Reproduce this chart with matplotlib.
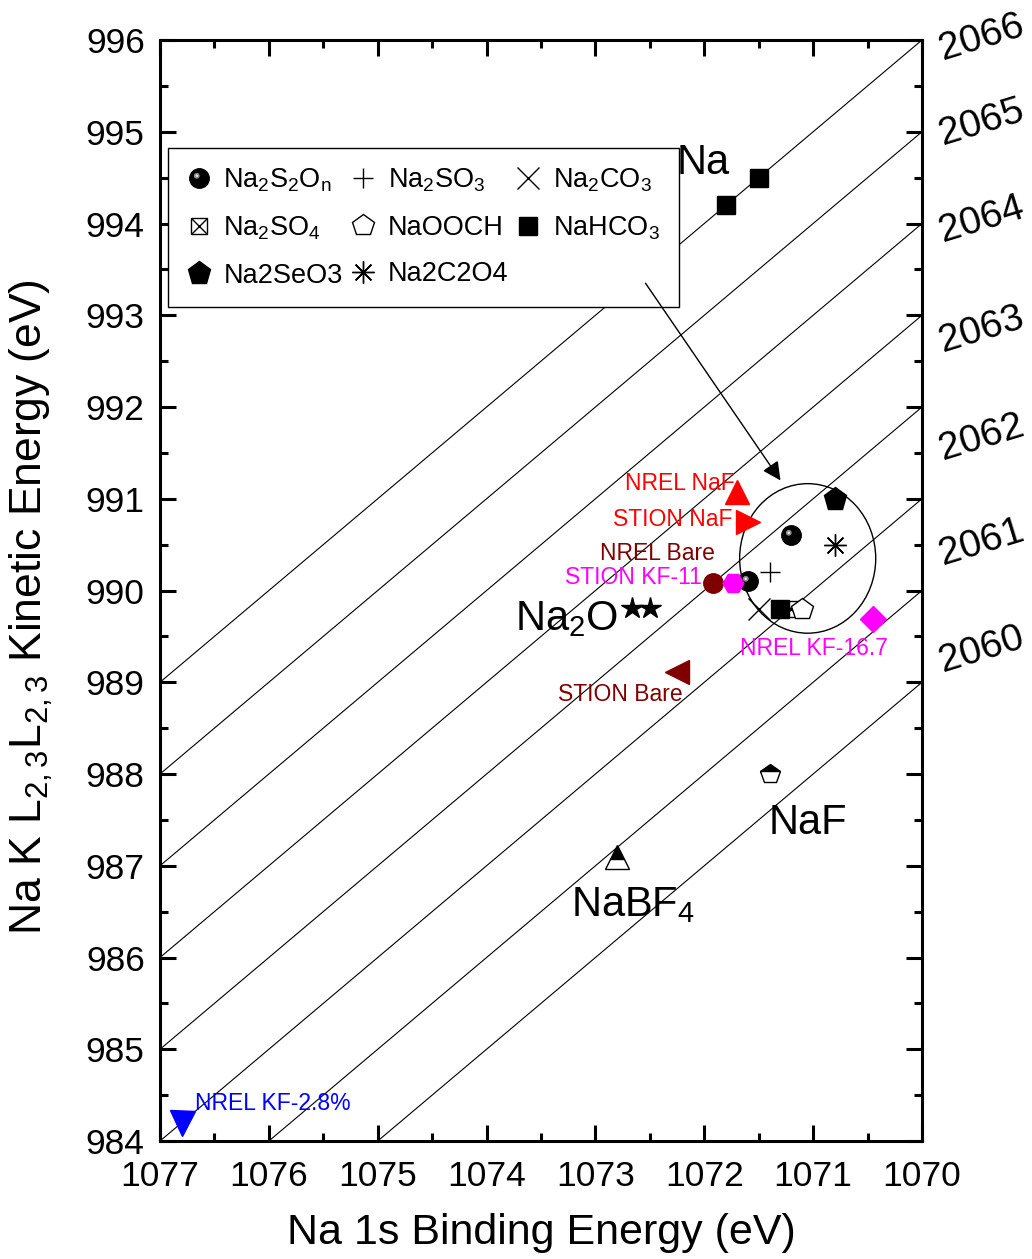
import numpy as np
import matplotlib
matplotlib.use('Agg')
import matplotlib.pyplot as plt
from matplotlib.path import Path
from matplotlib.patches import Ellipse
from matplotlib.lines import Line2D
from matplotlib.legend_handler import HandlerTuple
from matplotlib.ticker import MultipleLocator

plt.rcParams['font.family'] = ['Liberation Sans', 'DejaVu Sans']
plt.rcParams['mathtext.fontset'] = 'custom'
plt.rcParams['mathtext.rm'] = 'Liberation Sans'
plt.rcParams['mathtext.it'] = 'Liberation Sans:italic'

# constant Auger parameter lines (BE + KE)
alpha_lines = [2059, 2060, 2061, 2062, 2063, 2064, 2065, 2066]
alpha_labels = ['2060', '2061', '2062', '2063', '2064', '2065', '2066']

# reference compounds: (Na 1s BE, Na KLL KE)
na_metal_be = [1071.8, 1071.5]
na_metal_ke = [994.2, 994.5]
na2s2on_be = [1071.2, 1071.6]
na2s2on_ke = [990.6, 990.1]
na2so3_be = [1071.4]
na2so3_ke = [990.2]
na2co3_be = [1071.5]
na2co3_ke = [989.8]
na2so4_be = [1071.2]
na2so4_ke = [989.8]
naooch_be = [1071.1]
naooch_ke = [989.8]
nahco3_be = [1071.3]
nahco3_ke = [989.8]
na2seo3_be = [1070.8]
na2seo3_ke = [991.0]
na2c2o4_be = [1070.8]
na2c2o4_ke = [990.5]
na2o_be = [1072.66, 1072.5]
na2o_ke = [989.81, 989.81]
naf_be = [1071.4]
naf_ke = [988.0]
nabf4_be = [1072.8]
nabf4_ke = [987.1]

# samples
nrel_naf = (1071.7, 991.07)
stion_naf = (1071.6, 990.75)
nrel_bare = (1071.92, 990.08)
stion_kf11 = (1071.74, 990.08)
stion_bare = (1072.25, 989.11)
nrel_kf167 = (1070.45, 989.69)
nrel_kf28 = (1076.8, 984.2)

RED = '#ff0000'
DRED = '#800000'
MAG = '#ff00ff'
BLUE = '#0000ff'

# shiny ball highlight as custom marker paths
def highlight_path(r):
    c = Path.circle(center=(-0.28, 0.28), radius=r)
    verts = np.vstack([[[-1, -1], [1, 1]], c.vertices])
    codes = np.concatenate([[Path.MOVETO, Path.MOVETO], c.codes])
    return Path(verts, codes)

hl1 = highlight_path(0.3)
hl2 = highlight_path(0.13)

fig = plt.figure(figsize=(10.32, 12.59), dpi=100)
ax = fig.add_axes([0.155, 0.0937, 0.7384, 0.8745])

be_grid = np.array([1069.0, 1078.0])
for a in alpha_lines:
    ax.plot(be_grid, a - be_grid, color='black', lw=0.8, zorder=1)

ms = 14
ax.plot(na_metal_be, na_metal_ke, 's', color='black', ms=13, ls='none', zorder=4)
ax.plot(nahco3_be, nahco3_ke, 's', color='black', ms=13, ls='none', zorder=4)
ax.plot(na2so4_be, na2so4_ke, 's', mfc='none', mec='black', mew=1, ms=12, ls='none', zorder=4)
ax.plot(na2so4_be, na2so4_ke, 'x', color='black', mew=1, ms=12, ls='none', zorder=4)
ax.plot(naooch_be, naooch_ke, 'p', mfc='white', mec='black', mew=1, ms=16, ls='none', zorder=4)
ax.plot(na2co3_be, na2co3_ke, 'x', color='black', mew=1, ms=16, ls='none', zorder=4)
ax.plot(na2so3_be, na2so3_ke, '+', color='black', mew=1, ms=15, ls='none', zorder=4)
ax.plot(na2c2o4_be, na2c2o4_ke, marker=(8, 2, 0), color='black', mew=1, ms=16, ls='none', zorder=4)
ax.plot(na2seo3_be, na2seo3_ke, 'p', color='black', ms=17, ls='none', zorder=4)
ax.plot(na2s2on_be, na2s2on_ke, 'o', color='black', ms=ms, ls='none', zorder=4)
ax.plot(na2s2on_be, na2s2on_ke, marker=hl1, color='#8c8c8c', mew=0, ms=ms, ls='none', zorder=4)
ax.plot(na2s2on_be, na2s2on_ke, marker=hl2, color='#e6e6e6', mew=0, ms=ms, ls='none', zorder=4)
ax.plot(na2o_be, na2o_ke, '*', color='black', ms=16, ls='none', zorder=4)
ax.plot(naf_be, naf_ke, 'p', mfc='black', mfcalt='white', fillstyle='top', mec='black', mew=1, ms=15, ls='none', zorder=4)
ax.plot(nabf4_be, nabf4_ke, '^', mfc='black', mfcalt='white', fillstyle='top', mec='black', mew=1, ms=17, ls='none', zorder=4)

ax.plot(*nrel_naf, '^', color=RED, ms=17, zorder=4)
ax.plot(*stion_naf, '>', color=RED, ms=17, zorder=4)
ax.plot(*nrel_bare, 'o', color=DRED, ms=14, zorder=4)
ax.plot(*stion_kf11, 'H', color=MAG, ms=15, zorder=4)
ax.plot(*stion_bare, '<', color=DRED, ms=17, zorder=4)
ax.plot(*nrel_kf167, 'D', color=MAG, ms=13, zorder=4)
ax.plot(*nrel_kf28, 'v', color=BLUE, ms=18, zorder=4)

ax.add_patch(Ellipse((1071.05, 990.35), 1.25, 1.63, fill=False, ec='black', lw=1, zorder=3))

# compound labels
big = 30
ax.text(1072.25, 994.54, 'Na', fontsize=big, va='baseline', zorder=7)
ax.text(1073.74, 989.57, r'Na$_{\mathrm{2}}$O', fontsize=big, va='baseline')
ax.text(1071.41, 987.35, 'NaF', fontsize=big, va='baseline')
ax.text(1073.22, 986.45, r'NaBF$_{\mathrm{4}}$', fontsize=big, va='baseline')

small = 16.5
ax.text(1071.72, 991.10, 'NREL NaF', color=RED, fontsize=small, ha='right', va='baseline')
ax.text(1071.74, 990.70, 'STION NaF', color=RED, fontsize=small, ha='right', va='baseline')
ax.text(1071.90, 990.33, 'NREL Bare', color=DRED, fontsize=small, ha='right', va='baseline')
ax.text(1072.02, 990.07, 'STION KF-11', color=MAG, fontsize=small, ha='right', va='baseline')
ax.text(1072.20, 988.80, 'STION Bare', color=DRED, fontsize=small, ha='right', va='baseline')
ax.text(1071.67, 989.30, 'NREL KF-16.7', color=MAG, fontsize=small, va='baseline')
ax.text(1076.68, 984.34, 'NREL KF-2.8%', color=BLUE, fontsize=small, va='baseline')

# Auger parameter labels on the right
label_ke = [989.35, 990.52, 991.67, 992.84, 994.04, 995.10, 996.03]
for lab, y in zip(alpha_labels, label_ke):
    ax.text(1069.45, y, lab, fontsize=28, rotation=17, ha='center', va='center', clip_on=False)

ax.annotate('', xy=(1071.30, 991.20), xytext=(1072.54, 993.35),
            arrowprops=dict(arrowstyle='-|>', color='black', lw=1, mutation_scale=28,
                            shrinkA=0, shrinkB=0), zorder=6)

ax.set_xlim(1077, 1070)
ax.set_ylim(984, 996)
ax.xaxis.set_major_locator(MultipleLocator(1))
ax.xaxis.set_minor_locator(MultipleLocator(0.5))
ax.yaxis.set_major_locator(MultipleLocator(1))
ax.yaxis.set_minor_locator(MultipleLocator(0.5))
ax.tick_params(which='both', direction='in', top=True, right=True, width=2.2, labelsize=25.5)
ax.tick_params(axis='x', which='both', pad=14)
ax.tick_params(axis='y', which='both', pad=11)
ax.tick_params(which='major', length=11.5)
ax.tick_params(which='minor', length=6)
for sp in ax.spines.values():
    sp.set_linewidth(2.2)

ax.set_xlabel('Na 1s Binding Energy (eV)', fontsize=31, labelpad=14)
ax.set_ylabel(r'Na K L$_{\mathrm{2,3}}$L$_{\mathrm{2,3}}$ Kinetic Energy (eV)', fontsize=32)
ax.yaxis.set_label_coords(-0.138, 0.485)

# legend
def mk(marker, **kw):
    kw.setdefault('color', 'black')
    return Line2D([], [], ls='none', marker=marker, **kw)

h_s2on = (mk('o', ms=ms), mk(hl1, color='#8c8c8c', mew=0, ms=ms), mk(hl2, color='#e6e6e6', mew=0, ms=ms))
h_so3 = mk('+', mew=1, ms=15)
h_co3 = mk('x', mew=1, ms=16)
h_so4 = (mk('s', mfc='none', mec='black', mew=1, ms=12), mk('x', mew=1, ms=12))
h_ooch = mk('p', mfc='white', mec='black', mew=1, ms=16)
h_hco3 = mk('s', ms=13)
h_seo3 = mk('p', ms=17)
h_c2o4 = mk((8, 2, 0), mew=1, ms=16)

handles = [h_s2on, h_so4, h_seo3, h_so3, h_ooch, h_c2o4, h_co3, h_hco3]
labels = [r'Na$_{\mathrm{2}}$S$_{\mathrm{2}}$O$_{\mathrm{n}}$', r'Na$_{\mathrm{2}}$SO$_{\mathrm{4}}$', 'Na2SeO3',
          r'Na$_{\mathrm{2}}$SO$_{\mathrm{3}}$', 'NaOOCH', 'Na2C2O4',
          r'Na$_{\mathrm{2}}$CO$_{\mathrm{3}}$', r'NaHCO$_{\mathrm{3}}$']
leg = ax.legend(handles, labels, ncol=3, loc='upper left', bbox_to_anchor=(0.0105, 0.902),
                borderaxespad=0, fontsize=19.5, frameon=True, fancybox=False, edgecolor='black',
                framealpha=1, handlelength=0.9, handletextpad=0.45, columnspacing=0.3,
                labelspacing=0.75, borderpad=0.7,
                handler_map={tuple: HandlerTuple(ndivide=1, pad=0)})
leg.get_frame().set_linewidth(1)
leg.set_zorder(5)

fig.savefig('out.png', dpi=100)
